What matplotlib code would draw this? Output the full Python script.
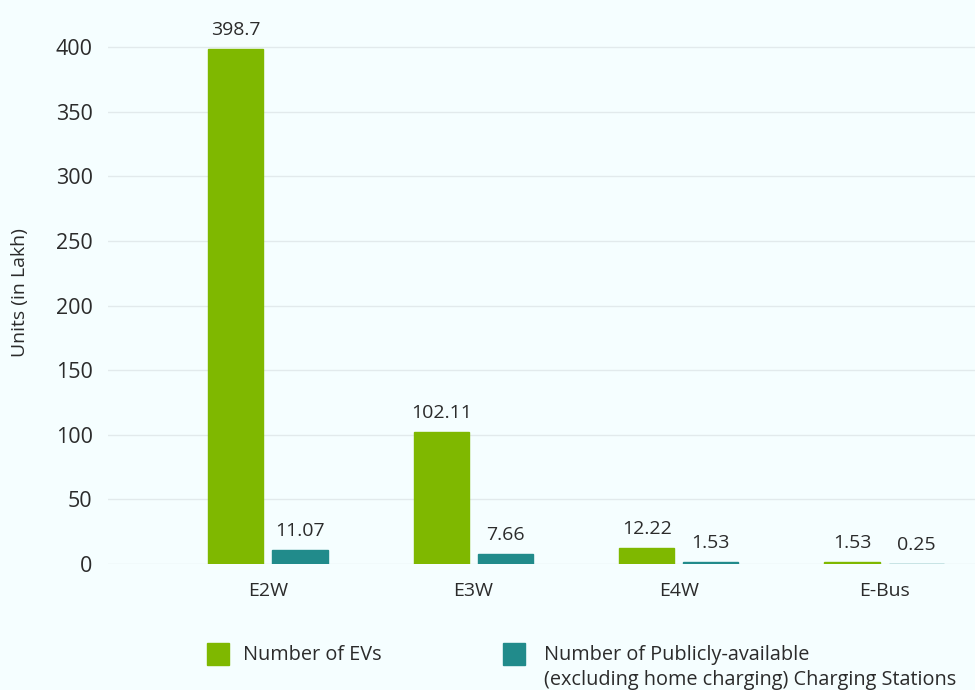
import numpy as np
import matplotlib.pyplot as plt
from matplotlib.patches import Rectangle

categories = ['E2W', 'E3W', 'E4W', 'E-Bus']
evs = [398.7, 102.11, 12.22, 1.53]
stations = [11.07, 7.66, 1.53, 0.25]
ev_labels = ['398.7', '102.11', '12.22', '1.53']
st_labels = ['11.07', '7.66', '1.53', '0.25']

bg = '#F5FEFF'
green = '#7FB800'
teal = '#218B8B'
txt = '#2B2B2B'

plt.rcParams['font.family'] = ['Open Sans', 'DejaVu Sans']

W, H = 975, 690
fig = plt.figure(figsize=(W / 100, H / 100), dpi=100, facecolor=bg)
ax = fig.add_axes([108 / W, 1 - 564 / H, (W - 108) / W, (564 - 20) / H], facecolor=bg)

x = np.arange(len(categories))
bw = 0.268
off = 0.156
ax.bar(x - off, evs, bw, color=green, edgecolor=green, linewidth=1.0, zorder=3)
ax.bar(x + off, stations, bw, color=teal, edgecolor=teal, linewidth=1.0, zorder=3)

for xi, v, s in zip(x - off, evs, ev_labels):
    ax.annotate(s, (xi, v), xytext=(0, 7), textcoords='offset points',
                ha='center', va='bottom', fontsize=14, color=txt)
for xi, v, s in zip(x + off, stations, st_labels):
    ax.annotate(s, (xi, v), xytext=(0, 7), textcoords='offset points',
                ha='center', va='bottom', fontsize=14, color=txt)

ax.set_xlim(-0.779, 3.443)
ax.set_ylim(0, 420.9)
ax.set_yticks(np.arange(0, 401, 50))
ax.set_xticks(x)
ax.set_xticklabels(categories)
ax.tick_params(axis='y', length=0, pad=11, labelsize=15.5, labelcolor=txt)
ax.tick_params(axis='x', length=0, pad=13, labelsize=14, labelcolor=txt)
ax.grid(axis='y', color='#E2EAEC', linewidth=1, zorder=0)
for sp in ax.spines.values():
    sp.set_visible(False)

fig.text(20 / W, 1 - 293 / H, 'Units (in Lakh)', rotation=90, ha='center', va='center',
         fontsize=14, color=txt)

# legend
fig.patches.append(Rectangle((207 / W, 1 - 665 / H), 22 / W, 22 / H,
                             transform=fig.transFigure, color=green, figure=fig))
fig.text(243 / W, 1 - 655 / H, 'Number of EVs', ha='left', va='center', fontsize=14.3, color=txt)
fig.patches.append(Rectangle((503 / W, 1 - 665 / H), 22 / W, 22 / H,
                             transform=fig.transFigure, color=teal, figure=fig))
fig.text(544 / W, 1 - 655 / H, 'Number of Publicly-available', ha='left', va='center',
         fontsize=14.3, color=txt)
fig.text(544 / W, 1 - 680 / H, '(excluding home charging) Charging Stations', ha='left',
         va='center', fontsize=14.3, color=txt)

fig.savefig('out.png', dpi=100, facecolor=bg)
